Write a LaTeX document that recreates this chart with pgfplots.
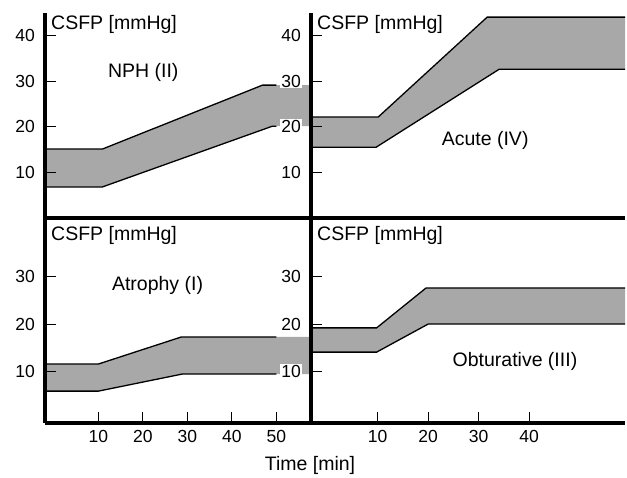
\documentclass[border=0pt]{standalone}
\usepackage{fontspec}
\setmainfont{Liberation Sans}
\usepackage{pgfplots}
\pgfplotsset{compat=1.18}

\definecolor{band}{HTML}{A8A8A8}

\pgfplotsset{
  panel/.style={
    scale only axis, anchor=south west,
    width=266pt, height=205pt,
    axis x line=bottom, axis y line=left,
    axis line style={-, line width=3.2pt},
    axis on top,
    tick align=inside, major tick length=11pt,
    tick style={black, line width=0.8pt},
    ticklabel style={font=\fontsize{17.5}{17.5}\selectfont},
    yticklabel style={fill=white, inner sep=1pt, xshift=-9pt},
    xticklabel style={yshift=-4pt},
    xtick=\empty,
  },
  top/.style={ymin=0, ymax=44.9, ytick={10,20,30,40}, yticklabels={10,20,30,40}},
  bot/.style={ymin=-0.8, ymax=42.3, ytick={10,20,30}, yticklabels={10,20,30}},
  left/.style={xmin=-2, xmax=57.8},
  right/.style={xmin=-3.2, xmax=59, width=314pt},
  edge/.style={black, line width=1.3pt},
}
\newcommand{\txt}{\fontsize{19.5}{21}\selectfont}

\begin{document}
\begin{tikzpicture}
\path[use as bounding box] (0,0) rectangle (627pt,-478pt);

% NPH (II)
\begin{axis}[panel, top, left, at={(45pt,-218pt)}]
\addplot[fill=band, draw=none] coordinates {(-2,15.1) (10.9,15.1) (46.9,29.1) (57.8,29.1) (57.8,20.1) (49.1,20.1) (10.9,6.8) (-2,6.8)} -- cycle;
\addplot[edge] coordinates {(-2,15.1) (10.9,15.1) (46.9,29.1) (50,29.1)};
\addplot[edge] coordinates {(-2,6.8) (10.9,6.8) (49.1,20.1) (50,20.1)};
\node[anchor=north west, font=\txt, inner sep=2pt] at (rel axis cs:0,1) [xshift=4pt] {CSFP [mmHg]};
\node[font=\txt] at (axis cs:20.1,31.9) {NPH (II)};
\end{axis}

% Acute (IV)
\begin{axis}[panel, top, right, at={(311pt,-218pt)}]
\addplot[fill=band, draw=none] coordinates {(-3.2,22.1) (10.1,22.1) (31.7,44) (59,44) (59,32.6) (34.1,32.6) (9.7,15.5) (-3.2,15.5)} -- cycle;
\addplot[edge] coordinates {(-3.2,22.1) (10.1,22.1) (31.7,44) (59,44)};
\addplot[edge] coordinates {(-3.2,15.5) (9.7,15.5) (34.1,32.6) (59,32.6)};
\node[anchor=north west, font=\txt, inner sep=2pt] at (rel axis cs:0,1) [xshift=4pt] {CSFP [mmHg]};
\node[font=\txt] at (axis cs:31.3,17) {Acute (IV)};
\end{axis}

% Atrophy (I)
\begin{axis}[panel, bot, left, at={(45pt,-423pt)}, xtick={10,20,30,40,50}, xticklabels={10,20,30,40,50}]
\addplot[fill=band, draw=none] coordinates {(-2,11.6) (10,11.6) (28.7,17.3) (57.8,17.3) (57.8,9.5) (28.9,9.5) (10,5.9) (-2,5.9)} -- cycle;
\addplot[edge] coordinates {(-2,11.6) (10,11.6) (28.7,17.3) (50,17.3)};
\addplot[edge] coordinates {(-2,5.9) (10,5.9) (28.9,9.5) (50,9.5)};
\node[anchor=north west, font=\txt, inner sep=2pt] at (rel axis cs:0,1) [xshift=4pt, yshift=-6pt] {CSFP [mmHg]};
\node[font=\txt] at (axis cs:23.3,28.2) {Atrophy (I)};
\end{axis}

% Obturative (III)
\begin{axis}[panel, bot, right, at={(311pt,-423pt)}, xtick={10,20,30,40}, xticklabels={10,20,30,40}]
\addplot[fill=band, draw=none] coordinates {(-3.2,19.2) (9.8,19.2) (19.6,27.6) (59,27.6) (59,20) (20,20) (9.8,14.1) (-3.2,14.1)} -- cycle;
\addplot[edge] coordinates {(-3.2,19.2) (9.8,19.2) (19.6,27.6) (59,27.6)};
\addplot[edge] coordinates {(-3.2,14.1) (9.8,14.1) (20,20) (59,20)};
\node[anchor=north west, font=\txt, inner sep=2pt] at (rel axis cs:0,1) [xshift=4pt, yshift=-6pt] {CSFP [mmHg]};
\node[font=\txt] at (axis cs:37.2,12.2) {Obturative (III)};
\end{axis}

\node[font=\txt] at (310pt,-465pt) {Time [min]};
\end{tikzpicture}
\end{document}
